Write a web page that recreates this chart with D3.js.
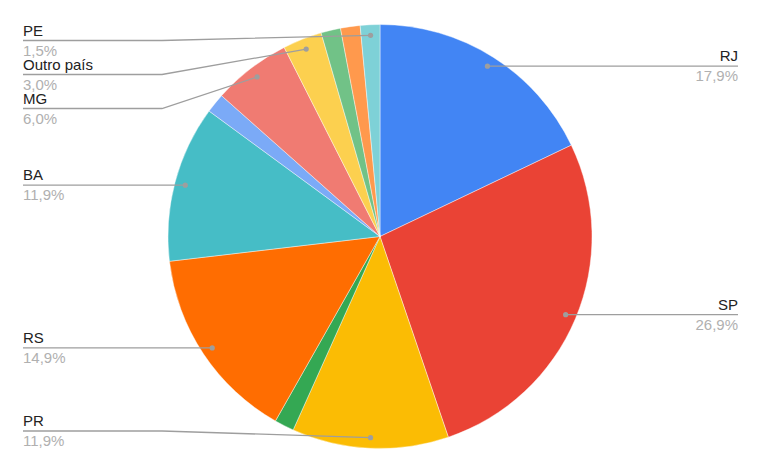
<!DOCTYPE html>
<html>
<head>
<meta charset="utf-8">
<script src="https://cdn.jsdelivr.net/npm/d3@7"></script>
<style>
  html, body { margin: 0; padding: 0; background: #fff; }
  svg { display: block; }
</style>
</head>
<body>
<svg id="chart" width="761" height="471"></svg>
<script>
// ---- Data (clockwise from 12 o'clock) ----
const categories = ["RJ", "SP", "PR", "", "RS", "BA", "", "MG", "Outro país", "", "", "PE"];
const counts     = [12, 18, 8, 1, 10, 8, 1, 4, 2, 1, 1, 1];
const percentLabels = ["17,9%", "26,9%", "11,9%", "1,5%", "14,9%", "11,9%", "1,5%", "6,0%", "3,0%", "1,5%", "1,5%", "1,5%"];
const colors = ["#4285F4", "#EA4335", "#FBBC04", "#34A853", "#FF6D01", "#46BDC6",
                "#7BAAF7", "#F07B72", "#FCD04F", "#71C287", "#FF994D", "#7ED1D7"];

// ---- Layout ----
const W = 761, H = 471;
const cx = 380, cy = 236.5, R = 212;
const leftX = 23, rightX = 738, leftElbow = 162, rightElbow = 598;
const minLineY = 40.5, maxLineY = 431, gap = 34;

const svg = d3.select("#chart");
const data = categories.map((c, i) => ({ name: c, value: counts[i], pct: percentLabels[i], color: colors[i], i }));

const pie = d3.pie().value(d => d.value).sort(null);
const arcs = pie(data);
const arcGen = d3.arc().innerRadius(0).outerRadius(R);
const dotArc = d3.arc().innerRadius(R * 0.95).outerRadius(R * 0.95);

const g = svg.append("g").attr("transform", `translate(${cx},${cy})`);
g.selectAll("path.slice").data(arcs).join("path")
  .attr("class", "slice")
  .attr("d", arcGen)
  .attr("fill", d => d.data.color)
  .attr("stroke", "#fff")
  .attr("stroke-width", 0.6)
  .attr("stroke-opacity", 0.7);

// labels
const labeled = arcs.filter(a => a.data.name !== "").map(a => {
  const [x, y] = dotArc.centroid(a);
  const mid = (a.startAngle + a.endAngle) / 2;
  return { a, dx: cx + x, dy: cy + y, side: mid < Math.PI ? "right" : "left" };
});

function resolve(list) {
  list.sort((p, q) => p.dy - q.dy);
  let prev = -Infinity;
  list.forEach(l => { l.ly = Math.max(l.dy, prev + gap, minLineY); prev = l.ly; });
  let next = Infinity;
  for (let k = list.length - 1; k >= 0; k--) {
    list[k].ly = Math.min(list[k].ly, next - gap, maxLineY);
    next = list[k].ly;
  }
}
resolve(labeled.filter(l => l.side === "left"));
resolve(labeled.filter(l => l.side === "right"));

const lg = svg.append("g");
labeled.forEach(l => {
  const isLeft = l.side === "left";
  const tx = isLeft ? leftX : rightX;
  const ex = isLeft ? leftElbow : rightElbow;
  lg.append("path")
    .attr("d", d3.line()([[tx, l.ly], [ex, l.ly], [l.dx, l.dy]]))
    .attr("fill", "none")
    .attr("stroke", "#9e9e9e")
    .attr("stroke-width", 1.3);
  lg.append("circle")
    .attr("cx", l.dx).attr("cy", l.dy).attr("r", 2.6)
    .attr("fill", "#9e9e9e");
  lg.append("text")
    .attr("x", tx).attr("y", l.ly - 5)
    .attr("text-anchor", isLeft ? "start" : "end")
    .attr("font-family", "Liberation Sans, Arial, sans-serif")
    .attr("font-size", 15)
    .attr("fill", "#222")
    .text(l.a.data.name);
  lg.append("text")
    .attr("x", tx).attr("y", l.ly + 15)
    .attr("text-anchor", isLeft ? "start" : "end")
    .attr("font-family", "Liberation Sans, Arial, sans-serif")
    .attr("font-size", 15)
    .attr("fill", "#b0b0b0")
    .text(l.a.data.pct);
});
</script>
</body>
</html>
